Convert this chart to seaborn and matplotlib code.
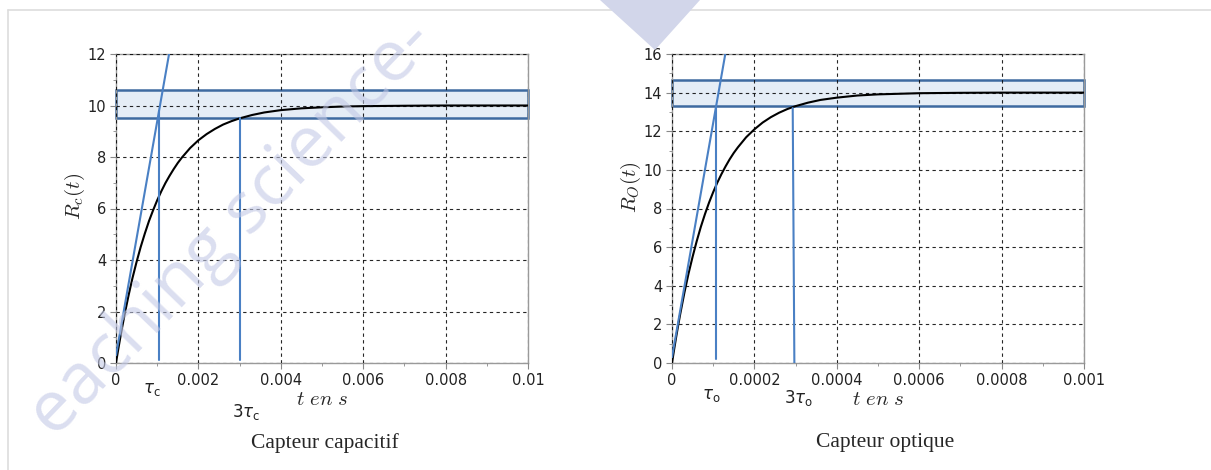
import numpy as np
import pandas as pd
import matplotlib.pyplot as plt
import matplotlib.ticker as mticker
from matplotlib.patches import Polygon
from matplotlib.lines import Line2D
import seaborn as sns

# --- données ---
# capteur capacitif
t_c = [0, 0.00005, 0.0001, 0.00015, 0.0002, 0.0003, 0.0004, 0.0005, 0.0006,
       0.0007, 0.0008, 0.0009, 0.001, 0.0011, 0.0012, 0.0013, 0.0014, 0.0015,
       0.0016, 0.0018, 0.002, 0.0022, 0.0024, 0.0026, 0.0028, 0.003, 0.0033,
       0.0036, 0.004, 0.0045, 0.005, 0.0055, 0.006, 0.007, 0.008, 0.009, 0.01]
r_c = [0, 0.49, 0.95, 1.39, 1.81, 2.59, 3.3, 3.93, 4.51, 5.03, 5.51, 5.93,
       6.32, 6.67, 6.99, 7.27, 7.53, 7.77, 7.98, 8.35, 8.65, 8.89, 9.09, 9.26,
       9.39, 9.5, 9.63, 9.73, 9.82, 9.89, 9.93, 9.96, 9.975, 9.99, 10.0, 10.0,
       10.0]
band_c = [9.5, 10.6]
tangent_c_t = [0, 0.00131]
tangent_c_r = [0.3, 12.2]
tau_c_t = [0.00105, 0.00105]
tau_c_r = [0.1, 9.8]
tau3_c_t = [0.003, 0.003]
tau3_c_r = [0.1, 9.5]
xticks_c = [0, 0.002, 0.004, 0.006, 0.008, 0.01]
xlabels_c = ["0", "0.002", "0.004", "0.006", "0.008", "0.01"]
yticks_c = [0, 2, 4, 6, 8, 10, 12]

# capteur optique
t_o = [0, 0.000005, 0.00001, 0.000015, 0.00002, 0.00003, 0.00004, 0.00005,
       0.00006, 0.00007, 0.00008, 0.00009, 0.0001, 0.00011, 0.00012, 0.00013,
       0.00014, 0.00015, 0.00016, 0.00018, 0.0002, 0.00022, 0.00024, 0.00026,
       0.00028, 0.0003, 0.00033, 0.00036, 0.0004, 0.00045, 0.0005, 0.00055,
       0.0006, 0.0007, 0.0008, 0.0009, 0.001]
r_o = [0, 0.68, 1.33, 1.95, 2.54, 3.63, 4.62, 5.5, 6.31, 7.05, 7.71, 8.31,
       8.85, 9.34, 9.78, 10.18, 10.55, 10.88, 11.17, 11.69, 12.1, 12.45, 12.73,
       12.96, 13.15, 13.3, 13.48, 13.62, 13.74, 13.85, 13.91, 13.94, 13.97,
       13.99, 14.0, 14.0, 14.0]
band_o = [13.3, 14.65]
tangent_o_t = [0, 0.000131]
tangent_o_r = [0.3, 16.2]
tau_o_t = [0.000106, 0.000106]
tau_o_r = [0.2, 13.3]
tau3_o_t = [0.000293, 0.000297]
tau3_o_r = [13.2, 0]
xticks_o = [0, 0.0002, 0.0004, 0.0006, 0.0008, 0.001]
xlabels_o = ["0", "0.0002", "0.0004", "0.0006", "0.0008", "0.001"]
yticks_o = [0, 2, 4, 6, 8, 10, 12, 14, 16]

sns.set_style("white")
plt.rcParams["font.family"] = ["DejaVu Sans"]

BLUE = "#4a80c4"
W, H = 1211, 470
fig = plt.figure(figsize=(W / 100, H / 100), dpi=100)


def px_axes(x0, y0, x1, y1):
    return fig.add_axes([x0 / W, 1 - y1 / H, (x1 - x0) / W, (y1 - y0) / H])


def draw(ax, t, r, band, tan_t, tan_r, v1t, v1r, v3t, v3r, xt, xl, yt,
         tau_lbl, tau_pos, tau3_lbl, tau3_pos, ylab, ylab_pos, title, title_x):
    xmax = xt[-1]
    ymax = yt[-1]
    df = pd.DataFrame({"t": t, "R": r})
    span = ax.axhspan(band[0], band[1], facecolor="#e5edf6",
                      edgecolor="#3e6aa0", lw=1.8, zorder=1)
    span.set_clip_on(False)
    sns.lineplot(data=df, x="t", y="R", ax=ax, color="black", lw=1.5,
                 zorder=4)
    for xs, ys in [(tan_t, tan_r), (v1t, v1r), (v3t, v3r)]:
        ax.plot(xs, ys, color=BLUE, lw=1.5, zorder=5)
    ax.set_xlim(0, xmax)
    ax.set_ylim(0, ymax)
    ax.set_xticks(xt)
    ax.set_xticklabels(xl)
    ax.set_yticks(yt)
    ax.xaxis.set_minor_locator(mticker.AutoMinorLocator(2))
    ax.yaxis.set_minor_locator(mticker.AutoMinorLocator(2))
    ax.grid(True, which="major", color="black", ls=(0, (3, 3)), lw=0.8,
            alpha=0.85)
    ax.set_axisbelow(False)
    for s in ax.spines.values():
        s.set_color("#9a9a9a")
        s.set_linewidth(1.0)
    ax.tick_params(which="major", direction="out", length=4, color="#888888",
                   labelsize=10.5, labelcolor="#222222", pad=3, left=True,
                   bottom=True)
    ax.tick_params(which="minor", direction="out", length=2.5,
                   color="#888888", left=True, bottom=True)
    ax.set_xlabel("")
    ax.set_ylabel("")
    # repères tau sous l'axe
    ax.text(tau_pos[0], tau_pos[1], tau_lbl, transform=ax.get_xaxis_transform(),
            ha="center", va="center", fontsize=12, math_fontfamily="dejavusans",
            color="#222222")
    ax.text(tau3_pos[0], tau3_pos[1], tau3_lbl,
            transform=ax.get_xaxis_transform(), ha="center", va="center",
            fontsize=12, math_fontfamily="dejavusans", color="#222222")
    ax.text(0.5, -0.115, r"$t\ en\ s$", transform=ax.transAxes, ha="center",
            va="center", fontsize=15, math_fontfamily="cm")
    ax.text(ylab_pos[0], ylab_pos[1], ylab, transform=ax.transAxes,
            ha="center", va="center", rotation=90, fontsize=15,
            math_fontfamily="cm")
    fig.text(title_x / W, 1 - 443 / H, title, ha="center", va="center",
             fontsize=15.5, family="Liberation Serif")


ax1 = px_axes(116, 54, 528, 363)
draw(ax1, t_c, r_c, band_c, tangent_c_t, tangent_c_r, tau_c_t, tau_c_r,
     tau3_c_t, tau3_c_r, xticks_c, xlabels_c, yticks_c,
     r"$\tau_\mathrm{c}$", (0.00087, -0.083), r"$3\tau_\mathrm{c}$",
     (0.00316, -0.16), r"$R_c(t)$", (-0.1, 0.54), "Capteur capacitif", 325)

ax2 = px_axes(672, 54, 1084, 363)
draw(ax2, t_o, r_o, band_o, tangent_o_t, tangent_o_r, tau_o_t, tau_o_r,
     tau3_o_t, tau3_o_r, xticks_o, xlabels_o, yticks_o,
     r"$\tau_\mathrm{o}$", (0.0000952, -0.103), r"$3\tau_\mathrm{o}$",
     (0.000308, -0.113), r"$R_O(t)$", (-0.1, 0.57), "Capteur optique", 885)

# cadre gris de la page
fig.add_artist(Line2D([8 / W, 1], [1 - 10 / H, 1 - 10 / H], color="#dddddd",
                      lw=1.2))
fig.add_artist(Line2D([8 / W, 8 / W], [0, 1 - 10 / H], color="#dddddd",
                      lw=1.2))

# filigrane
fig.add_artist(Polygon([[600 / W, 1], [700 / W, 1], [655 / W, 1 - 50 / H]],
                       closed=True, facecolor="#d2d6ea", edgecolor="none",
                       transform=fig.transFigure, zorder=10))
fig.text(232 / W, 1 - 228 / H, "eaching science-", rotation=46,
         ha="center", va="center", fontsize=52, color="#c3c9e6", alpha=0.6,
         family="Open Sans", zorder=10)

fig.savefig("out.png", dpi=100)
